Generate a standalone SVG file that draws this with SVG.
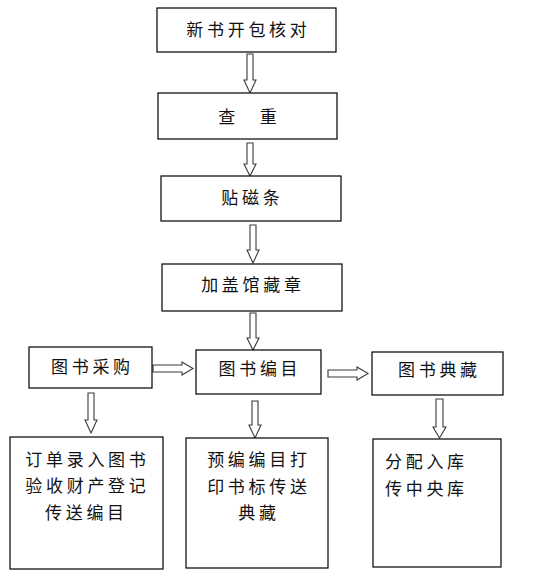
<svg xmlns="http://www.w3.org/2000/svg" width="554" height="586" viewBox="0 0 554 586">
<style>
.box{fill:#fff;stroke:#000;stroke-width:1.2}
.t{font-family:"Noto Sans CJK SC","Noto Sans CJK TC",sans-serif;font-size:17px;letter-spacing:3.7px;fill:#111}
.c{text-anchor:middle}
.ar{fill:#fff;stroke:#3a3a3a;stroke-width:1.1;stroke-linejoin:miter}
</style>
<rect width="554" height="586" fill="#fff"/>
<g id="connectors">
<polygon class="ar" points="247,54 253,54 253,80 256,80 250,93 244,80 247,80"/>
<polygon class="ar" points="247,143 253,143 253,164 256,164 250,176 244,164 247,164"/>
<polygon class="ar" points="250,225 256,225 256,250 259,250 253,263 247,250 250,250"/>
<polygon class="ar" points="250,313 256,313 256,338 259,338 253,350 247,338 250,338"/>
<polygon class="ar" points="88,393 94,393 94,420 97,420 91,433 85,420 88,420"/>
<polygon class="ar" points="252,401 258,401 258,425 261,425 255,438 249,425 252,425"/>
<polygon class="ar" points="436,399 443,399 443,427 446,427 439.5,438 433,427 436,427"/>
<polygon class="ar" points="153,365 182,365 182,362 193,368.5 182,375 182,372 153,372"/>
<polygon class="ar" points="328,370 357,370 357,367 368,373.5 357,380 357,377 328,377"/>
</g>
<g id="n1"><rect class="box" x="157" y="8" width="179" height="44"/><text class="t c" x="248.4" y="36">新书开包核对</text></g>
<g id="n2"><rect class="box" x="158" y="93" width="179" height="46"/><text class="t c" x="249.4" y="123">查　重</text></g>
<g id="n3"><rect class="box" x="161" y="176" width="180" height="45"/><text class="t c" x="252.4" y="204">贴磁条</text></g>
<g id="n4"><rect class="box" x="162" y="264" width="180" height="47"/><text class="t c" x="252.9" y="291">加盖馆藏章</text></g>
<g id="n5"><rect class="box" x="29" y="347" width="123" height="41"/><text class="t c" x="92.4" y="373">图书采购</text></g>
<g id="n6"><rect class="box" x="196" y="350" width="125" height="44"/><text class="t c" x="259.9" y="375">图书编目</text></g>
<g id="n7"><rect class="box" x="372" y="352" width="131" height="43"/><text class="t c" x="439.4" y="376">图书典藏</text></g>
<g id="n8"><rect class="box" x="10" y="437" width="153" height="132"/>
<text class="t c" x="87.4" y="466">订单录入图书</text>
<text class="t c" x="87.4" y="492">验收财产登记</text>
<text class="t c" x="86.4" y="519">传送编目</text></g>
<g id="n9"><rect class="box" x="186" y="438" width="142" height="130"/>
<text class="t c" x="258.9" y="466">预编编目打</text>
<text class="t c" x="258.9" y="493">印书标传送</text>
<text class="t c" x="258.9" y="519">典藏</text></g>
<g id="n10"><rect class="box" x="373" y="439" width="128" height="128"/>
<text class="t" x="385" y="468">分配入库</text>
<text class="t" x="385" y="495">传中央库</text></g>
</svg>
